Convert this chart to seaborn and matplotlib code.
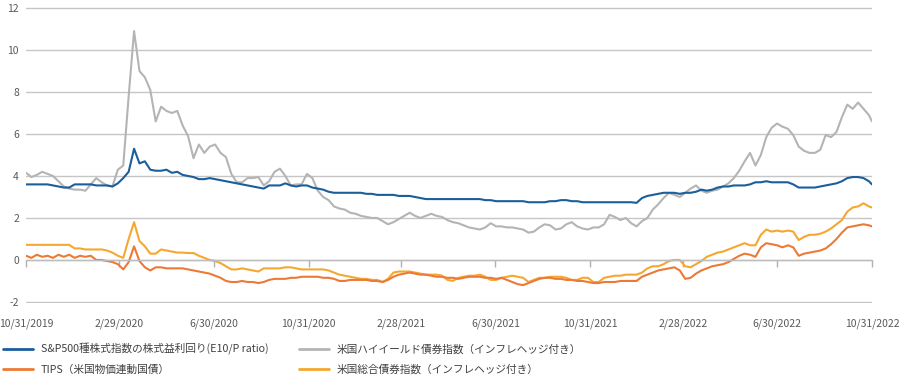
import matplotlib
matplotlib.use("Agg")
import matplotlib.pyplot as plt
import seaborn as sns
import pandas as pd

# ---- data (weekly, 10/31/2019 - 10/31/2022) ----
start_date = "2019-10-31"
end_date = "2022-10-31"

sp500_e10p = [
    3.6, 3.6, 3.6, 3.6, 3.6, 3.55, 3.5, 3.45, 3.45, 3.6,
    3.6, 3.6, 3.6, 3.55, 3.55, 3.55, 3.5, 3.65, 3.9, 4.2,
    5.3, 4.6, 4.7, 4.3, 4.25, 4.25, 4.3, 4.15, 4.2, 4.05,
    4.0, 3.95, 3.85, 3.85, 3.9, 3.85, 3.8, 3.75, 3.7, 3.65,
    3.6, 3.55, 3.5, 3.45, 3.4, 3.55, 3.55, 3.55, 3.65, 3.55,
    3.5, 3.55, 3.55, 3.45, 3.4, 3.35, 3.25, 3.2, 3.2, 3.2,
    3.2, 3.2, 3.2, 3.15, 3.15, 3.1, 3.1, 3.1, 3.1, 3.05,
    3.05, 3.05, 3.0, 2.95, 2.9, 2.9, 2.9, 2.9, 2.9, 2.9,
    2.9, 2.9, 2.9, 2.9, 2.9, 2.85, 2.85, 2.8, 2.8, 2.8,
    2.8, 2.8, 2.8, 2.75, 2.75, 2.75, 2.75, 2.8, 2.8, 2.85,
    2.85, 2.8, 2.8, 2.75, 2.75, 2.75, 2.75, 2.75, 2.75, 2.75,
    2.75, 2.75, 2.75, 2.72, 2.95, 3.05, 3.1, 3.15, 3.2, 3.2,
    3.2, 3.15, 3.2, 3.2, 3.25, 3.35, 3.3, 3.35, 3.45, 3.5,
    3.5, 3.55, 3.55, 3.55, 3.6, 3.7, 3.7, 3.75, 3.7, 3.7,
    3.7, 3.7, 3.6, 3.45, 3.45, 3.45, 3.45, 3.5, 3.55, 3.6,
    3.65, 3.75, 3.9, 3.95, 3.95, 3.9, 3.75, 3.6,
]

us_high_yield = [
    4.15, 3.95, 4.05, 4.2, 4.1, 4.0, 3.75, 3.5, 3.4, 3.35,
    3.35, 3.3, 3.6, 3.9, 3.7, 3.55, 3.5, 4.3, 4.5, 7.8,
    10.9, 9.0, 8.7, 8.1, 6.6, 7.3, 7.1, 7.0, 7.1, 6.4,
    5.9, 4.85, 5.5, 5.1, 5.4, 5.5, 5.1, 4.9, 4.1, 3.7,
    3.7, 3.9, 3.9, 3.95, 3.55, 3.75, 4.2, 4.35, 4.0, 3.55,
    3.6, 3.6, 4.1, 3.9, 3.3, 3.0, 2.85, 2.55, 2.45, 2.4,
    2.25, 2.2, 2.1, 2.05, 2.0, 2.0, 1.85, 1.7, 1.8, 1.95,
    2.1, 2.25, 2.1, 2.0, 2.1, 2.2, 2.1, 2.05, 1.9, 1.8,
    1.75, 1.65, 1.55, 1.5, 1.45, 1.55, 1.75, 1.6, 1.6, 1.55,
    1.55, 1.5, 1.45, 1.3, 1.35, 1.55, 1.7, 1.65, 1.45, 1.5,
    1.7, 1.8, 1.6, 1.5, 1.45, 1.55, 1.55, 1.7, 2.15, 2.05,
    1.9, 2.0, 1.75, 1.6, 1.85, 2.0, 2.4, 2.65, 2.95, 3.2,
    3.1, 3.0, 3.2, 3.4, 3.55, 3.3, 3.2, 3.3, 3.35, 3.5,
    3.65, 3.9, 4.25, 4.7, 5.1, 4.5, 5.0, 5.85, 6.3, 6.5,
    6.35, 6.25, 5.95, 5.4, 5.2, 5.1, 5.1, 5.25, 5.95, 5.85,
    6.1, 6.8, 7.4, 7.2, 7.5, 7.2, 6.9, 6.6,
]

tips = [
    0.2, 0.1, 0.25, 0.15, 0.2, 0.1, 0.25, 0.15, 0.25, 0.1,
    0.2, 0.15, 0.2, 0.0, 0.0, -0.05, -0.1, -0.2, -0.45, -0.1,
    0.65, -0.05, -0.35, -0.5, -0.35, -0.35, -0.4, -0.4, -0.4, -0.4,
    -0.45, -0.5, -0.55, -0.6, -0.65, -0.75, -0.85, -1.0, -1.05, -1.05,
    -1.0, -1.05, -1.05, -1.1, -1.05, -0.95, -0.9, -0.9, -0.9, -0.85,
    -0.85, -0.8, -0.8, -0.8, -0.8, -0.85, -0.85, -0.9, -1.0, -1.0,
    -0.95, -0.95, -0.95, -0.95, -1.0, -1.0, -1.05, -0.95, -0.8, -0.7,
    -0.65, -0.6, -0.65, -0.7, -0.7, -0.75, -0.8, -0.8, -0.85, -0.85,
    -0.9, -0.85, -0.8, -0.8, -0.8, -0.85, -0.85, -0.9, -0.85, -0.95,
    -1.05, -1.15, -1.2, -1.1, -1.0, -0.9, -0.85, -0.85, -0.9, -0.9,
    -0.95, -0.95, -1.0, -1.0, -1.05, -1.1, -1.1, -1.05, -1.05, -1.05,
    -1.0, -1.0, -1.0, -1.0, -0.8, -0.7, -0.6, -0.5, -0.45, -0.4,
    -0.35, -0.5, -0.9, -0.85, -0.65, -0.5, -0.4, -0.3, -0.25, -0.2,
    -0.1, 0.05, 0.2, 0.3, 0.25, 0.15, 0.6, 0.8, 0.75, 0.7,
    0.6, 0.7, 0.6, 0.2, 0.3, 0.35, 0.4, 0.45, 0.55, 0.75,
    1.0, 1.3, 1.55, 1.6, 1.65, 1.7, 1.65, 1.6,
]

us_aggregate = [
    0.72, 0.72, 0.72, 0.72, 0.72, 0.72, 0.72, 0.72, 0.72, 0.55,
    0.55, 0.5, 0.5, 0.5, 0.5, 0.45, 0.35, 0.2, 0.1, 1.0,
    1.8, 0.9, 0.65, 0.3, 0.3, 0.5, 0.45, 0.4, 0.35, 0.35,
    0.33, 0.33, 0.2, 0.1, 0.0, -0.05, -0.15, -0.3, -0.45, -0.45,
    -0.4, -0.45, -0.5, -0.55, -0.4, -0.4, -0.4, -0.4, -0.35, -0.35,
    -0.4, -0.45, -0.45, -0.45, -0.45, -0.45, -0.5, -0.6, -0.7, -0.75,
    -0.8, -0.85, -0.9, -0.9, -0.95, -0.95, -1.05, -0.9, -0.6, -0.55,
    -0.55, -0.55, -0.6, -0.65, -0.7, -0.7, -0.7, -0.75, -0.95, -1.0,
    -0.85, -0.8, -0.75, -0.75, -0.7, -0.8, -0.95, -0.95, -0.85, -0.8,
    -0.75, -0.8, -0.85, -1.05, -0.95, -0.85, -0.85, -0.8, -0.8, -0.8,
    -0.85, -0.95, -0.95, -0.85, -0.85, -1.05, -1.05, -0.85, -0.8, -0.75,
    -0.75, -0.7, -0.7, -0.7, -0.6, -0.4, -0.3, -0.3, -0.2, -0.05,
    0.0, 0.0, -0.3, -0.35, -0.2, -0.05, 0.15, 0.25, 0.35, 0.4,
    0.5, 0.6, 0.7, 0.8, 0.7, 0.7, 1.2, 1.45, 1.35, 1.4,
    1.35, 1.4, 1.35, 0.95, 1.1, 1.2, 1.2, 1.25, 1.35, 1.5,
    1.7, 1.9, 2.3, 2.5, 2.55, 2.7, 2.55, 2.5,
]

series_labels = [
    "S&P500種株式指数の株式益利回り(E10/P ratio)",
    "TIPS（米国物価連動国債）",
    "米国ハイイールド債券指数（インフレヘッジ付き）",
    "米国総合債券指数（インフレヘッジ付き）",
]
tick_dates = ["2019-10-31", "2020-02-29", "2020-06-30", "2020-10-31", "2021-02-28",
              "2021-06-30", "2021-10-31", "2022-02-28", "2022-06-30", "2022-10-31"]
tick_labels = ["10/31/2019", "2/29/2020", "6/30/2020", "10/31/2020", "2/28/2021",
               "6/30/2021", "10/31/2021", "2/28/2022", "6/30/2022", "10/31/2022"]
y_ticks = [-2, 0, 2, 4, 6, 8, 10, 12]

# ---- build frame ----
dates = list(pd.date_range(start_date, end_date, freq="7D"))
if dates[-1] != pd.Timestamp(end_date):
    dates.append(pd.Timestamp(end_date))
dates = pd.DatetimeIndex(dates)

values = {
    series_labels[0]: sp500_e10p,
    series_labels[1]: tips,
    series_labels[2]: us_high_yield,
    series_labels[3]: us_aggregate,
}
frames = []
for name, vals in values.items():
    frames.append(pd.DataFrame({"date": dates[:len(vals)], "value": vals, "series": name}))
df = pd.concat(frames, ignore_index=True)

colors = {
    series_labels[0]: "#1b5e9c",
    series_labels[1]: "#ec7a36",
    series_labels[2]: "#b4b4b4",
    series_labels[3]: "#f5a830",
}

sns.set_theme(style="white")
plt.rcParams["font.family"] = ["Noto Sans CJK JP", "DejaVu Sans"]

fig = plt.figure(figsize=(9.0, 3.86), dpi=100)
ax = fig.add_axes([26 / 900, 1 - 303 / 386, (872 - 26) / 900, (303 - 7) / 386])

draw_order = [series_labels[2], series_labels[3], series_labels[1], series_labels[0]]
for name in draw_order:
    sub = df[df["series"] == name]
    sns.lineplot(data=sub, x="date", y="value", ax=ax, color=colors[name],
                 linewidth=1.5, label=name, legend=False)

ax.set_ylim(-2.05, 12.05)
ax.set_xlim(pd.Timestamp(start_date), pd.Timestamp(end_date))
ax.set_yticks(y_ticks)
ax.set_yticklabels([str(v) for v in y_ticks])
ax.yaxis.grid(True, color="#c6c6c6", linewidth=1.0)
ax.xaxis.grid(False)
ax.set_axisbelow(True)
for s in ["top", "right", "left"]:
    ax.spines[s].set_visible(False)
ax.spines["bottom"].set_position(("data", 0))
ax.spines["bottom"].set_color("#bdbdbd")
ax.spines["bottom"].set_linewidth(1.0)

tdates = pd.to_datetime(tick_dates)
ax.set_xticks(tdates)
ax.xaxis.set_ticks_position("bottom")
ax.tick_params(axis="x", which="major", direction="out", length=5, width=1.0,
               color="#b0b0b0", labelbottom=False, bottom=True)
ax.tick_params(axis="y", length=0, pad=5, labelsize=7.5, labelcolor="#595959")
ax.set_xlabel("")
ax.set_ylabel("")

sec = ax.secondary_xaxis(0.0)
sec.set_xticks(tdates)
sec.set_xticklabels(tick_labels)
sec.tick_params(axis="x", length=0, pad=11, labelsize=7.5, labelcolor="#595959")
sec.spines["bottom"].set_visible(False)

handles = {l.get_label(): l for l in ax.get_lines()}
leg_handles = [handles[n] for n in series_labels]
leg = fig.legend(leg_handles, series_labels, loc="upper left",
                 bbox_to_anchor=(3 / 900, 1 - 343 / 386), ncol=2, frameon=False,
                 fontsize=7.7, handlelength=2.85, handletextpad=0.7,
                 labelspacing=0.9, columnspacing=2.8, borderpad=0, borderaxespad=0)
for t in leg.get_texts():
    t.set_color("#404040")
for l in leg.get_lines():
    l.set_linewidth(2.0)

fig.savefig("out.png", dpi=100)
